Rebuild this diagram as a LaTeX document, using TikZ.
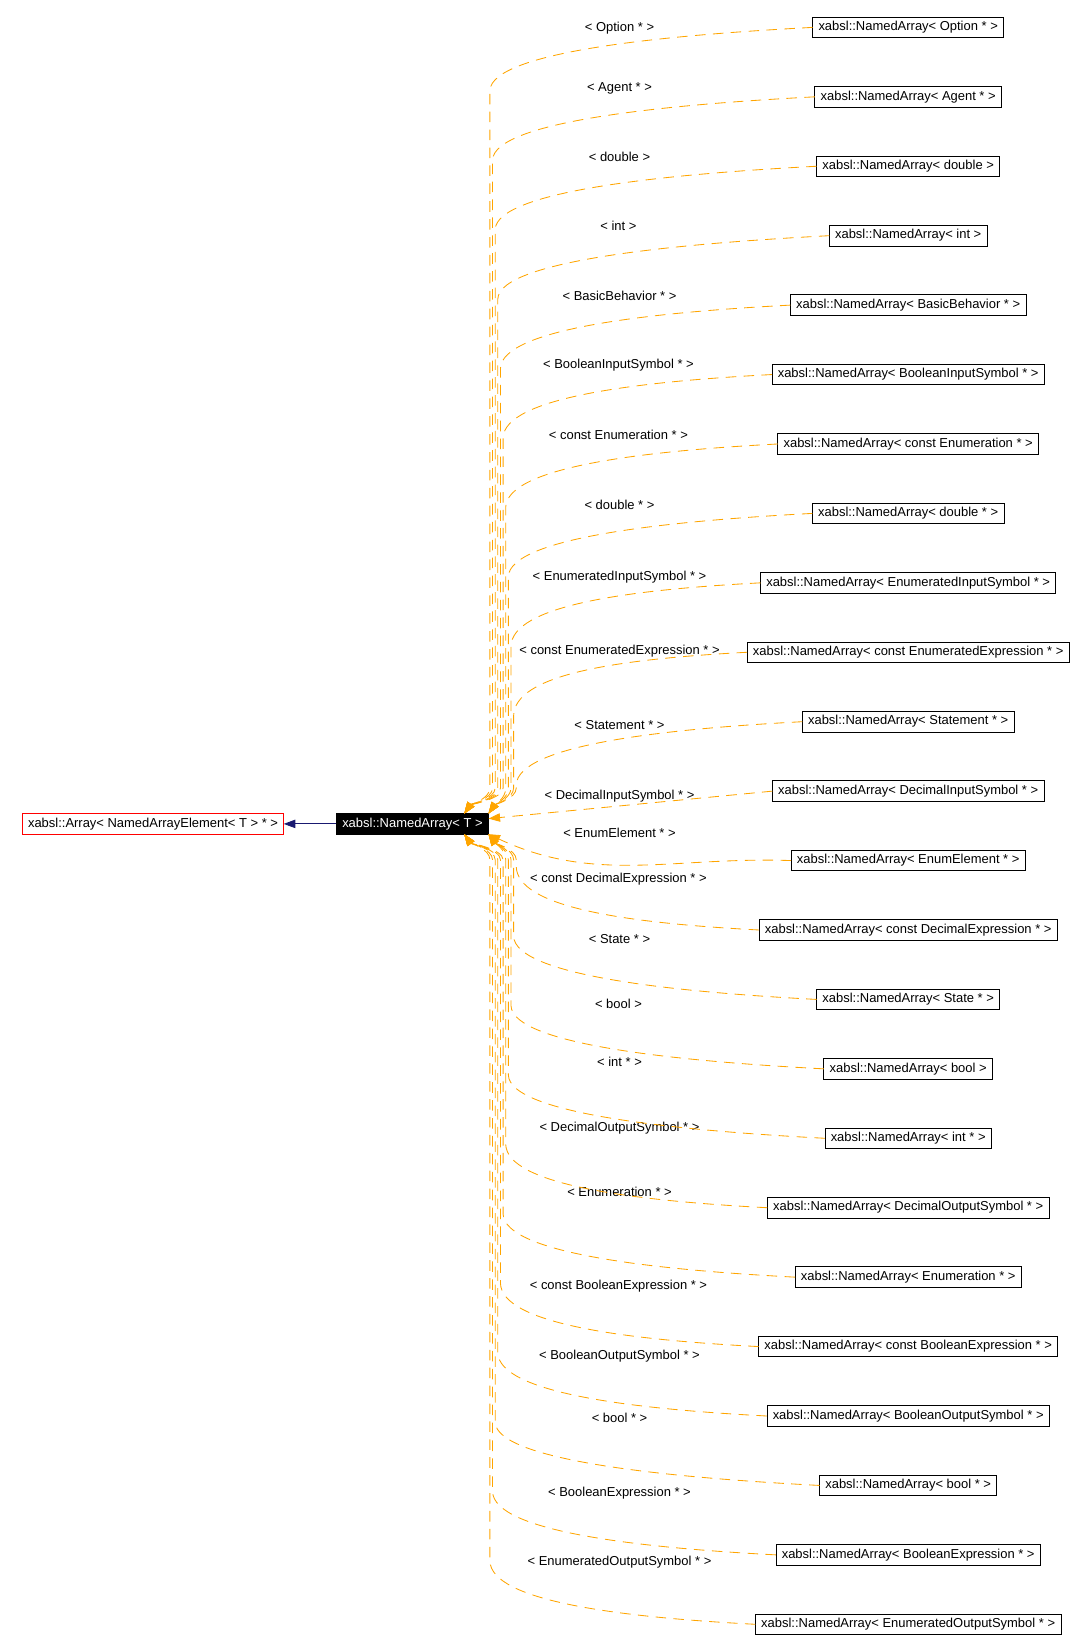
\documentclass[tikz,border=0pt]{standalone}
\usepackage{fontspec}
\setmainfont{Liberation Sans}
\usetikzlibrary{arrows.meta,positioning}
\definecolor{cEdge}{RGB}{255,165,0}
\definecolor{cGen}{RGB}{25,25,112}
\definecolor{cBase}{RGB}{255,0,0}
\tikzset{
  cls/.style={draw=black, fill=white, line width=0.8pt, outer sep=0pt,
              minimum height=19.5pt, inner xsep=5.5pt, inner ysep=0pt,
              text height=8.8pt, text depth=2.6pt, font=\fontsize{12.3}{14}\selectfont},
  base/.style={cls, draw=cBase},
  cur/.style={cls, fill=black, text=white},
  lbl/.style={inner sep=0pt, font=\fontsize{12.3}{14}\selectfont},
  inh/.style={draw=cEdge, line width=0.8pt, dash pattern=on 10pt off 7pt,
              -{Triangle[length=11pt,width=8pt]}},
  gen/.style={draw=cGen, line width=0.8pt, -{Triangle[length=11pt,width=8pt]}},
}
% edge from a class above / below the template, down the bundle at x = #2
\newcommand{\inhup}[3]{\draw[inh] (#1.west) to[out=183,in=88,out distance=130pt,in distance=38pt]
  ([yshift=-60pt]#2,0 |- #1.west) -- (#2,-748) to[out=-90,in=55,distance=10pt] #3;}
\newcommand{\inhdown}[3]{\draw[inh] (#1.west) to[out=177,in=-88,out distance=130pt,in distance=38pt]
  ([yshift=60pt]#2,0 |- #1.west) -- (#2,-816) to[out=90,in=-55,distance=10pt] #3;}

\begin{document}
\begin{tikzpicture}[x=1pt, y=1pt, node distance=46.4pt]
  \useasboundingbox (0,0) rectangle (1029,-1568);
  \node[cur] (na) at (391.5,-782) {xabsl::NamedArray< T >};
  \node[base, left=50pt of na] (arr) {xabsl::Array< NamedArrayElement< T > * >};

  \node[cls] (opt) at (862,-26) {xabsl::NamedArray< Option * >};
  \node[cls, below=of opt] (agent) {xabsl::NamedArray< Agent * >};
  \node[cls, below=of agent] (dbl) {xabsl::NamedArray< double >};
  \node[cls, below=of dbl] (int) {xabsl::NamedArray< int >};
  \node[cls, below=of int] (bb) {xabsl::NamedArray< BasicBehavior * >};
  \node[cls, below=of bb] (bis) {xabsl::NamedArray< BooleanInputSymbol * >};
  \node[cls, below=of bis] (cen) {xabsl::NamedArray< const Enumeration * >};
  \node[cls, below=of cen] (dblp) {xabsl::NamedArray< double * >};
  \node[cls, below=of dblp] (eis) {xabsl::NamedArray< EnumeratedInputSymbol * >};
  \node[cls, below=of eis] (cee) {xabsl::NamedArray< const EnumeratedExpression * >};
  \node[cls, below=of cee] (stm) {xabsl::NamedArray< Statement * >};
  \node[cls, below=of stm] (dis) {xabsl::NamedArray< DecimalInputSymbol * >};
  \node[cls, below=of dis] (ele) {xabsl::NamedArray< EnumElement * >};
  \node[cls, below=of ele] (cde) {xabsl::NamedArray< const DecimalExpression * >};
  \node[cls, below=of cde] (sta) {xabsl::NamedArray< State * >};
  \node[cls, below=of sta] (bool) {xabsl::NamedArray< bool >};
  \node[cls, below=of bool] (intp) {xabsl::NamedArray< int * >};
  \node[cls, below=of intp] (dos) {xabsl::NamedArray< DecimalOutputSymbol * >};
  \node[cls, below=of dos] (enu) {xabsl::NamedArray< Enumeration * >};
  \node[cls, below=of enu] (cbe) {xabsl::NamedArray< const BooleanExpression * >};
  \node[cls, below=of cbe] (bos) {xabsl::NamedArray< BooleanOutputSymbol * >};
  \node[cls, below=of bos] (boolp) {xabsl::NamedArray< bool * >};
  \node[cls, below=of boolp] (bex) {xabsl::NamedArray< BooleanExpression * >};
  \node[cls, below=of bex] (eos) {xabsl::NamedArray< EnumeratedOutputSymbol * >};

  % template arguments
  \node[lbl] (lopt) at (588,-26.5) {< Option * >};
  \node[lbl] (lagent) at (588,-83.5) {< Agent * >};
  \node[lbl] (ldbl) at (588,-148.5) {< double >};
  \node[lbl] (lint) at (587,-214.5) {< int >};
  \node[lbl] (lbb) at (588,-280.5) {< BasicBehavior * >};
  \node[lbl] (lbis) at (587,-346.5) {< BooleanInputSymbol * >};
  \node[lbl] (lcen) at (587,-412.5) {< const Enumeration * >};
  \node[lbl] (ldblp) at (588,-479.5) {< double * >};
  \node[lbl] (leis) at (588,-547.5) {< EnumeratedInputSymbol * >};
  \node[lbl] (lcee) at (588,-618.5) {< const EnumeratedExpression * >};
  \node[lbl] (lstm) at (588,-688.5) {< Statement * >};
  \node[lbl] (ldis) at (588,-755.5) {< DecimalInputSymbol * >};
  \node[lbl] (lele) at (588,-790.5) {< EnumElement * >};
  \node[lbl] (lcde) at (587,-834.5) {< const DecimalExpression * >};
  \node[lbl] (lsta) at (588,-891.5) {< State * >};
  \node[lbl] (lbool) at (587,-952.5) {< bool >};
  \node[lbl] (lintp) at (588,-1007.5) {< int * >};
  \node[lbl] (ldos) at (588,-1070.5) {< DecimalOutputSymbol * >};
  \node[lbl] (lenu) at (588,-1131.5) {< Enumeration * >};
  \node[lbl] (lcbe) at (587,-1220.5) {< const BooleanExpression * >};
  \node[lbl] (lbos) at (588,-1287.5) {< BooleanOutputSymbol * >};
  \node[lbl] (lboolp) at (588,-1345.5) {< bool * >};
  \node[lbl] (lbex) at (588,-1417.5) {< BooleanExpression * >};
  \node[lbl] (leos) at (588,-1482.5) {< EnumeratedOutputSymbol * >};

  \draw[gen] (na) -- (arr);

  \inhup{opt}{465}{([xshift=-23pt]na.north east)}
  \inhup{agent}{467.5}{([xshift=-23pt]na.north east)}
  \inhup{dbl}{470}{([xshift=-23pt]na.north east)}
  \inhup{int}{472.5}{([xshift=-23pt]na.north east)}
  \inhup{bb}{475}{([xshift=-23pt]na.north east)}
  \inhup{bis}{477.5}{([xshift=-23pt]na.north east)}
  \inhup{cen}{480}{(na.north east)}
  \inhup{dblp}{482.5}{(na.north east)}
  \inhup{eis}{485}{(na.north east)}
  \inhup{cee}{487.5}{(na.north east)}
  \inhup{stm}{490}{(na.north east)}
  \draw[inh] (dis.west) -- ([yshift=5pt]na.east);
  \draw[inh] (ele.west) to[out=178,in=-25] (na.south east);
  \inhdown{cde}{490}{(na.south east)}
  \inhdown{sta}{487.5}{(na.south east)}
  \inhdown{bool}{485}{(na.south east)}
  \inhdown{intp}{482.5}{(na.south east)}
  \inhdown{dos}{480}{(na.south east)}
  \inhdown{enu}{477.5}{([xshift=-23pt]na.south east)}
  \inhdown{cbe}{475}{([xshift=-23pt]na.south east)}
  \inhdown{bos}{472.5}{([xshift=-23pt]na.south east)}
  \inhdown{boolp}{470}{([xshift=-23pt]na.south east)}
  \inhdown{bex}{467.5}{([xshift=-23pt]na.south east)}
  \inhdown{eos}{465}{([xshift=-23pt]na.south east)}
\end{tikzpicture}
\end{document}
